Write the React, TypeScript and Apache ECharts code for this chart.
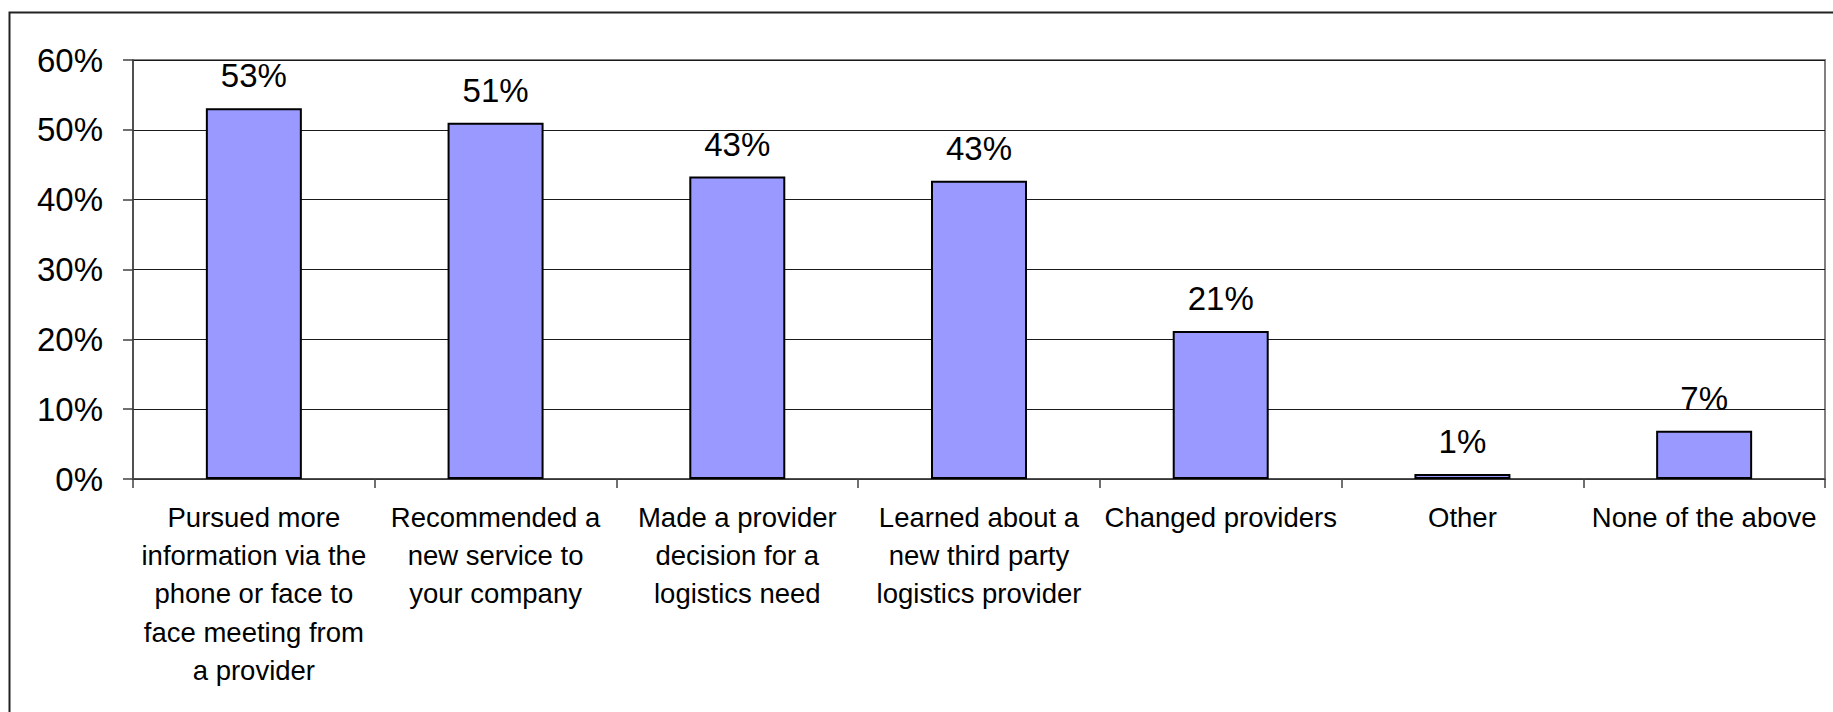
import React, { useEffect, useRef } from "react";
import * as echarts from "echarts";

const categories: string[] = [
  "Pursued more\ninformation via the\nphone or face to\nface meeting from\na provider",
  "Recommended a\nnew service to\nyour company",
  "Made a provider\ndecision for a\nlogistics need",
  "Learned about a\nnew third party\nlogistics provider",
  "Changed providers",
  "Other",
  "None of the above",
];

const values: number[] = [53.1, 51.0, 43.3, 42.7, 21.2, 0.7, 6.9];

const yTicks = { min: 0, max: 60, interval: 10 };

const FONT = "'Liberation Sans', Arial, sans-serif";

export default function App() {
  const ref = useRef<HTMLDivElement>(null);

  useEffect(() => {
    if (!ref.current) return;
    const chart = echarts.init(ref.current, undefined, { renderer: "svg" });
    chart.setOption({
      animation: false,
      backgroundColor: "#ffffff",
      textStyle: { fontFamily: FONT, color: "#000" },
      graphic: [
        {
          type: "rect",
          left: 7,
          top: 10,
          shape: { x: 0, y: 0, width: 1840, height: 720 },
          style: { fill: "none", stroke: "#222", lineWidth: 2 },
          silent: true,
          z: 0,
        },
      ],
      grid: {
        left: 133,
        top: 60,
        right: 8,
        bottom: 233,
        show: true,
        borderColor: "#808080",
        borderWidth: 2,
        backgroundColor: "transparent",
      },
      xAxis: {
        type: "category",
        data: categories,
        boundaryGap: true,
        axisLine: { show: true, lineStyle: { color: "#404040", width: 1.5 } },
        axisTick: { show: true, length: 9, lineStyle: { color: "#404040", width: 1.5 } },
        axisLabel: {
          interval: 0,
          margin: 19,
          fontSize: 27.5,
          lineHeight: 38.3,
          color: "#000",
          fontFamily: FONT,
          align: "center",
        },
        splitLine: { show: false },
      },
      yAxis: {
        type: "value",
        min: yTicks.min,
        max: yTicks.max,
        interval: yTicks.interval,
        axisLine: { show: true, lineStyle: { color: "#404040", width: 1.5 } },
        axisTick: { show: true, length: 10, lineStyle: { color: "#404040", width: 1.5 } },
        axisLabel: {
          formatter: "{value}%",
          margin: 30,
          fontSize: 33,
          color: "#000",
          fontFamily: FONT,
        },
        splitLine: { show: true, lineStyle: { color: "#1a1a1a", width: 1 } },
      },
      series: [
        {
          type: "bar",
          data: values,
          barWidth: 96,
          itemStyle: { color: "#9999FF", borderColor: "#000", borderWidth: 2 },
          label: {
            show: true,
            position: "top",
            distance: 16,
            fontSize: 33,
            lineHeight: 33,
            color: "#000",
            fontFamily: FONT,
            formatter: (p: any) => `${Math.round(p.value)}%`,
          },
        },
      ],
    });
    return () => chart.dispose();
  }, []);

  return (
    <div
      ref={ref}
      style={{ position: "fixed", left: 0, top: 0, width: 1833, height: 712 }}
    />
  );
}
